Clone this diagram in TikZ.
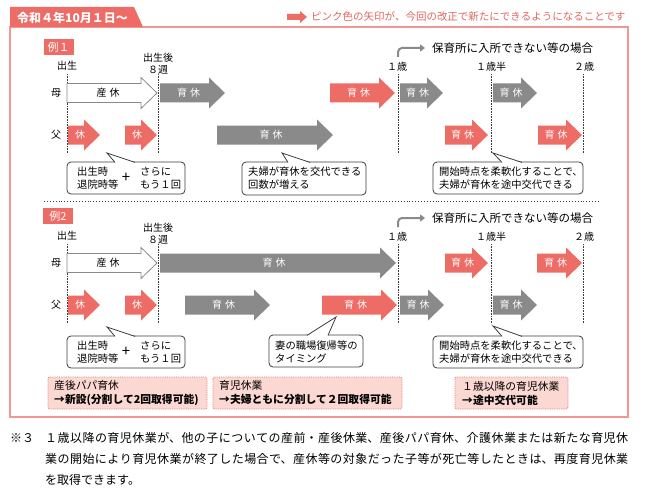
\documentclass[tikz,border=0pt]{standalone}
\usepackage{fontspec}
\setmainfont{Noto Sans CJK JP}
\usetikzlibrary{arrows.meta}
\XeTeXlinebreaklocale "ja"
\XeTeXlinebreakskip=0pt plus 2pt
\definecolor{kpink}{RGB}{237,108,102}
\definecolor{kgray}{RGB}{138,138,138}
\definecolor{kframe}{RGB}{241,152,148}
\definecolor{klight}{RGB}{251,216,210}
\definecolor{kdot}{RGB}{232,120,114}
\definecolor{kline}{RGB}{60,60,60}
\tikzset{
  pinkarr/.style = {fill=kpink},% 新しくできる休業
  grayarr/.style = {fill=kgray},% 従来の休業
  whitearr/.style = {fill=white, draw=kgray, line width=0.8pt},% 産休
  arrtext/.style = {text=white, inner sep=0pt,
    font=\fontsize{10}{12}\selectfont},
  lbl/.style = {align=center, inner sep=0pt,
    font=\fontsize{10}{12}\selectfont},
  timeline/.style = {kline, densely dotted, line width=0.6pt},
  bentarr/.style = {draw=kgray, line width=2pt, rounded corners=4pt,
    -{Triangle[length=5pt, width=7pt]}},
  callout/.style = {draw=kline, fill=white, rounded corners=4pt,
    line width=0.8pt},
  calltext/.style = {align=left, inner sep=0pt, anchor=west,
    font=\fontsize{10.3}{13}\selectfont},
  plustext/.style = {inner sep=0pt, font=\fontsize{15}{15}\selectfont},
  notebox/.style = {fill=klight, draw=kdot, densely dotted,
    line width=0.8pt, rounded corners=2pt},
  notetext/.style = {align=left, inner sep=0pt, anchor=west,
    font=\fontsize{10.8}{14}\selectfont},
  reibox/.style = {fill=kpink, text=white, inner sep=0pt,
    minimum width=30pt, minimum height=16pt,
    font=\fontsize{11}{12}\selectfont}
}
% [style]{name}{start}{tip}{y}{text}
\newcommand\kyuarrow[6][pinkarr]{%
  \path[#1] (#3,#5-9.5) -- (#4-16,#5-9.5) -- (#4-16,#5-15.5) -- (#4,#5)
    -- (#4-16,#5+15.5) -- (#4-16,#5+9.5) -- (#3,#5+9.5) -- cycle;
  \node[arrtext] (#2) at ({(#3+#4)/2-4},#5) {#6};}
% {x1}{y1}{x2}{y2}{base x1}{base x2}{apex x}{apex y}
\newcommand\balloon[8]{%
  \draw[callout] (#1,#2) rectangle (#3,#4);
  \fill[white] (#5,#2+1) -- (#7,#8) -- (#6,#2+1) -- cycle;
  \draw[kline, line width=0.8pt] (#5,#2+0.4) -- (#7,#8) -- (#6,#2+0.4);}
\newcommand\ikyu{育\hspace{3pt}休}

\begin{document}
\begin{tikzpicture}[x=1pt,y=-1pt]
\useasboundingbox[fill=white] (0,0) rectangle (647,492);
% frame and tab
\draw[kframe, line width=1.4pt] (10,27) rectangle (628,417);
\fill[kpink] (10,7) -- (134,7) -- (143,27) -- (10,27) -- cycle;
\node[anchor=west, inner sep=0pt, text=white,
  font=\bfseries\fontsize{12}{14}\selectfont] (title) at (17,17.5)
  {令和４年10月１日～};
% legend
\fill[kpink] (287,14) -- (300,14) -- (300,11) -- (307,17) -- (300,23)
  -- (300,20) -- (287,20) -- cycle;
\node[anchor=west, inner sep=0pt, text=kpink!95!black,
  font=\fontsize{10.5}{12}\selectfont] (legend) at (311,16.5)
  {ピンク色の矢印が、今回の改正で新たにできるようになることです};

\node[reibox] (rei1) at (58.5,47.5) {例１};
\node[reibox] (rei2) at (58,216) {例2};

\foreach \oy/\n in {0/1,170/2}{
  \node[lbl] (birth\n) at (67,66+\oy) {出生};
  \node[lbl] (week\n) at (158,64+\oy) {出生後\\８週};
  \node[lbl] (ageA\n) at (397,67+\oy) {１歳};
  \node[lbl] (ageB\n) at (491,67+\oy) {１歳半};
  \node[lbl] (ageC\n) at (584,67+\oy) {２歳};
  \node[lbl] (mom\n) at (56,93+\oy) {母};
  \node[lbl] (dad\n) at (56,135+\oy) {父};
  \foreach \x in {67,158,398,491,583}
    \draw[timeline] (\x,74+\oy) -- (\x,154+\oy);
  \node[anchor=west, inner sep=0pt, font=\fontsize{11.5}{13}\selectfont]
    (nursery\n) at (432,48+\oy) {保育所に入所できない等の場合};
  \coordinate (bend\n) at (398,57+\oy);
  \draw[bentarr] (bend\n) |- ([xshift=-7pt]nursery\n.west);
}

% example 1
\kyuarrow[whitearr]{sankyu1}{67}{157}{93}{\color{black}産\hspace{3pt}休}
\kyuarrow[grayarr]{momA1}{160}{225}{93}{\ikyu}
\kyuarrow[pinkarr]{momB1}{330}{395}{93}{\ikyu}
\kyuarrow[grayarr]{momC1}{400}{443}{93}{\ikyu}
\kyuarrow[grayarr]{momD1}{493}{537}{93}{\ikyu}
\kyuarrow[pinkarr]{dadA1}{68}{100}{135}{休}
\kyuarrow[pinkarr]{dadB1}{125}{157}{135}{休}
\kyuarrow[grayarr]{dadC1}{217}{333}{135}{\ikyu}
\kyuarrow[pinkarr]{dadD1}{445}{488}{135}{\ikyu}
\kyuarrow[pinkarr]{dadE1}{538}{582}{135}{\ikyu}

\balloon{67}{162}{185}{194}{115}{135}{107}{153}
\node[calltext] (birthA1) at (77,178.5) {出生時\\退院時等};
\node[plustext] (plus1) at (126,178) {+};
\node[calltext] (againA1) at (140,178.5) {さらに\\もう１回};
\balloon{242}{162}{366}{195}{288}{310}{282}{153}
\node[calltext] (swapB1) at (248,178.5) {夫婦が育休を交代できる\\回数が増える};
\balloon{433}{162}{583}{194}{502}{522}{493}{153}
\node[calltext] (flexC1) at (439,178.5) {開始時点を柔軟化することで、\\夫婦が育休を途中交代できる};

\draw[kline, dotted, line width=0.9pt] (44,201) -- (600,201);

% example 2
\kyuarrow[whitearr]{sankyu2}{67}{157}{263}{\color{black}産\hspace{3pt}休}
\kyuarrow[grayarr]{momA2}{160}{396}{263}{\ikyu}
\kyuarrow[pinkarr]{momB2}{445}{488}{263}{\ikyu}
\kyuarrow[pinkarr]{momC2}{537}{582}{263}{\ikyu}
\kyuarrow[pinkarr]{dadA2}{68}{100}{305}{休}
\kyuarrow[pinkarr]{dadB2}{125}{157}{305}{休}
\kyuarrow[grayarr]{dadC2}{185}{270}{305}{\ikyu}
\kyuarrow[pinkarr]{dadD2}{322}{397}{305}{\ikyu}
\kyuarrow[grayarr]{dadE2}{400}{444}{305}{\ikyu}
\kyuarrow[grayarr]{dadF2}{493}{537}{305}{\ikyu}

\balloon{67}{336}{185}{368}{115}{135}{107}{327}
\node[calltext] (birthA2) at (77,352.5) {出生時\\退院時等};
\node[plustext] (plus2) at (126,352) {+};
\node[calltext] (againA2) at (140,352.5) {さらに\\もう１回};
\balloon{269}{335}{363}{367}{307}{328}{336}{317}
\node[calltext] (wifeB2) at (275,351.5) {妻の職場復帰等の\\タイミング};
\balloon{433}{336}{583}{368}{502}{522}{493}{326}
\node[calltext] (flexC2) at (439,352.5) {開始時点を柔軟化することで、\\夫婦が育休を途中交代できる};

% summary boxes
\draw[notebox] (48,377) rectangle (207,409);
\node[notetext] (papa) at (54,393) {産後パパ育休\\\textbf{→新設(分割して2回取得可能)}};
\draw[notebox] (213,377) rectangle (402,409);
\node[notetext] (ikuji) at (219,393) {育児休業\\\textbf{→夫婦ともに分割して２回取得可能}};
\draw[notebox] (455,377) rectangle (568,409);
\node[notetext] (after1) at (462,393) {１歳以降の育児休業\\\textbf{→途中交代可能}};

% footnote
\node[anchor=base west, inner sep=0pt, font=\fontsize{12}{21}\selectfont]
  (note3) at (10,442.5) {※３};
\node[anchor=north west, inner sep=0pt, text width=583pt, align=justify,
  font=\fontsize{12}{21}\selectfont] (notebody) at (45,432)
  {１歳以降の育児休業が、他の子についての産前・産後休業、産後パパ育休、介護休業または新たな育児休\linebreak
   業の開始により育児休業が終了した場合で、産休等の対象だった子等が死亡等したときは、再度育児休業\linebreak
   を取得できます。};
\end{tikzpicture}
\end{document}
